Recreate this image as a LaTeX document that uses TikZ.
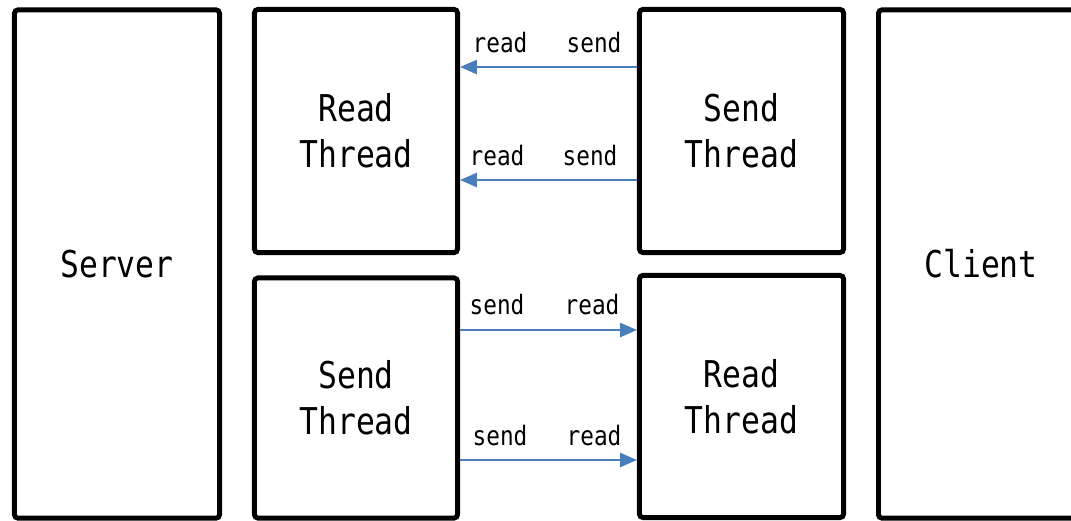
\documentclass[tikz,border=0pt]{standalone}
\usepackage{fontspec}
\setmainfont{DejaVu Sans Mono}[FakeStretch=0.85]
\usetikzlibrary{arrows.meta}
\definecolor{linkblue}{RGB}{74,126,187}

\begin{document}
\begin{tikzpicture}[x=0.01cm,y=0.01cm]
  \tikzset{BoxStyle/.style = {
  draw,
  line width = 1.4pt,
  rounded corners = 1pt,
  inner sep = 0pt,
  align = center,
  font = \fontsize{10.5}{13}\selectfont}}
  \tikzset{LinkStyle/.style = {
  draw = linkblue,
  line width = 0.65pt,
  -{Triangle[length=4.8pt,width=4pt]}}}
  \tikzset{TagStyle/.style = {
  inner sep = 0pt,
  font = \fontsize{7.6}{9}\selectfont}}
  \useasboundingbox (0,0) rectangle (1071,520);
  % boxes
  \node[BoxStyle, minimum width=2.05cm, minimum height=5.08cm] (server) at (117,256) {Server};
  \node[BoxStyle, minimum width=2.03cm, minimum height=2.43cm] (sread) at (356,389) {Read\\Thread};
  \node[BoxStyle, minimum width=2.03cm, minimum height=2.40cm] (ssend) at (356,122) {Send\\Thread};
  \node[BoxStyle, minimum width=2.04cm, minimum height=2.43cm] (csend) at (741.5,389) {Send\\Thread};
  \node[BoxStyle, minimum width=2.04cm, minimum height=2.42cm] (cread) at (741.5,123.5) {Read\\Thread};
  \node[BoxStyle, minimum width=2.05cm, minimum height=5.08cm] (client) at (981,256) {Client};
  % rows of the links
  \coordinate (rowA) at (0,453);
  \coordinate (rowB) at (0,340);
  \coordinate (rowC) at (0,190);
  \coordinate (rowD) at (0,60);
  \draw[LinkStyle] (csend.west |- rowA) -- (sread.east |- rowA);
  \draw[LinkStyle] (csend.west |- rowB) -- (sread.east |- rowB);
  \draw[LinkStyle] (ssend.east |- rowC) -- (cread.west |- rowC);
  \draw[LinkStyle] (ssend.east |- rowD) -- (cread.west |- rowD);
  % labels
  \node[TagStyle] (tagA1) at (500,477) {read};
  \node[TagStyle] (tagA2) at (594,477) {send};
  \node[TagStyle] (tagB1) at (497,364) {read};
  \node[TagStyle] (tagB2) at (590,364) {send};
  \node[TagStyle] (tagC1) at (497,215) {send};
  \node[TagStyle] (tagC2) at (592,215) {read};
  \node[TagStyle] (tagD1) at (500,84) {send};
  \node[TagStyle] (tagD2) at (594,84) {read};
\end{tikzpicture}
\end{document}
